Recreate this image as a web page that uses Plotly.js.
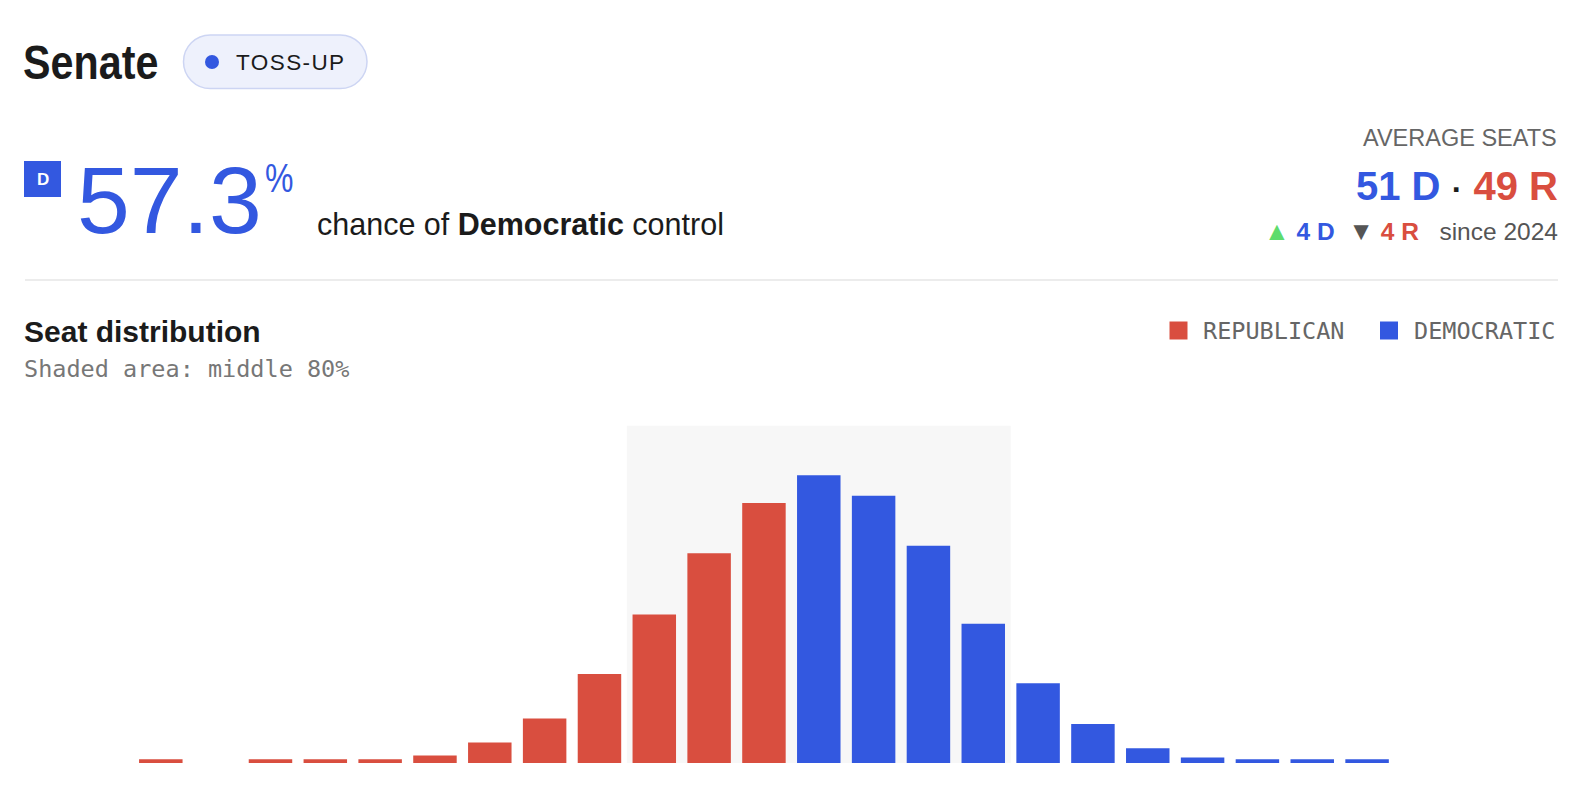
<!DOCTYPE html>
<html><head><meta charset="utf-8">
<script src="https://cdn.plot.ly/plotly-3.0.1.min.js"></script>
<style>
html,body{margin:0;padding:0;background:#fff;overflow:hidden}
#chart{width:1579px;height:792px}
.annotation[data-index="0"] .annotation-text{transform-box:fill-box;transform-origin:0 50%;transform:scaleX(0.86)}
.annotation[data-index="1"] .annotation-text{letter-spacing:1.4px}
.annotation[data-index="4"] .annotation-text{transform-box:fill-box;transform-origin:0 50%;transform:scaleX(0.8)}
</style>
</head><body><div id="chart"></div>
<script>
// ---- data ----
const seats = [39,40,41,42,43,44,45,46,47,48,49,50,51,52,53,54,55,56,57,58,59,60,61];
const probability = [0.2,0,0.2,0.2,0.2,0.4,1.1,2.4,4.8,8.0,11.3,14.0,15.5,14.4,11.7,7.5,4.3,2.1,0.8,0.3,0.2,0.2,0.2];
const majoritySeats = 51;
const middle80 = [48, 54];
const chanceDem = "57.3";
const avgDem = 51, avgRep = 49;
const changeDem = 4, changeRep = 4, sinceYear = 2024;
const rating = "TOSS-UP";
const legendLabels = ["REPUBLICAN", "DEMOCRATIC"];

// ---- styles ----
const BLUE = "#3358e0", RED = "#d94e3f", INK = "#1b1b1b", GRAY = "#666666";
const W = 1579, H = 792;
const px = x => x / W, py = y => 1 - y / H;

const repX = [], repY = [], demX = [], demY = [];
seats.forEach((s, i) => {
  if (s >= majoritySeats) { demX.push(s); demY.push(probability[i]); }
  else { repX.push(s); repY.push(probability[i]); }
});

const traces = [
  {type: "bar", x: repX, y: repY, name: legendLabels[0], width: 0.793, marker: {color: RED}, hoverinfo: "x+y"},
  {type: "bar", x: demX, y: demY, name: legendLabels[1], width: 0.793, marker: {color: BLUE}, hoverinfo: "x+y"}
];

function pt(x, y) { return px(x).toFixed(5) + "," + py(y).toFixed(5); }
function stadium(x0, y0, x1, y1) {
  const r = (y1 - y0) / 2, k = 0.5523 * r;
  return "M" + pt(x0 + r, y0) + " L" + pt(x1 - r, y0) +
    " C" + pt(x1 - r + k, y0) + " " + pt(x1, y0 + r - k) + " " + pt(x1, y0 + r) +
    " C" + pt(x1, y0 + r + k) + " " + pt(x1 - r + k, y1) + " " + pt(x1 - r, y1) +
    " L" + pt(x0 + r, y1) +
    " C" + pt(x0 + r - k, y1) + " " + pt(x0, y0 + r + k) + " " + pt(x0, y0 + r) +
    " C" + pt(x0, y0 + r - k) + " " + pt(x0 + r - k, y0) + " " + pt(x0 + r, y0) + " Z";
}
function prect(x0, y0, x1, y1, fill) {
  return {type: "rect", xref: "paper", yref: "paper", x0: px(x0), x1: px(x1), y0: py(y1), y1: py(y0),
          fillcolor: fill, line: {width: 0}};
}

const shapes = [
  {type: "rect", xref: "x", yref: "y domain", x0: middle80[0] - 0.5, x1: middle80[1] + 0.5, y0: 0, y1: 1,
   fillcolor: "#f7f7f7", line: {width: 0}, layer: "below"},
  {type: "path", xref: "paper", yref: "paper", path: stadium(183.5, 35, 367, 88.5),
   fillcolor: "#eef1fc", line: {color: "#cdd5f3", width: 1.5}},
  {type: "circle", xref: "paper", yref: "paper", x0: px(205), x1: px(219), y0: py(69), y1: py(55),
   fillcolor: BLUE, line: {width: 0}},
  prect(24, 161, 61, 197, BLUE),
  {type: "line", xref: "paper", yref: "paper", x0: px(25), x1: px(1558), y0: py(280), y1: py(280),
   line: {color: "#e6e6e6", width: 1.5}},
  prect(1169.5, 321.5, 1187.5, 339.5, RED),
  prect(1380, 321.5, 1398, 339.5, BLUE)
];

function txt(x, y, text, size, color, family, xanchor, weight) {
  return {xref: "paper", yref: "paper", x: px(x), y: py(y), text: text, showarrow: false,
          xanchor: xanchor || "left", yanchor: "middle", borderpad: 0, borderwidth: 0,
          font: {size: size, color: color, family: family, weight: weight || "normal"}};
}
const SANS = "Liberation Sans, Arial, sans-serif";
const MONO = "DejaVu Sans Mono, Liberation Mono, monospace";
const NB = "\u00a0";

const annotations = [
  txt(23, 62, "Senate", 48, INK, SANS, "left", "bold"),
  txt(240.5, 62.5, rating, 22.5, INK, SANS, "left"),
  txt(42.8, 179, "D", 17, "#ffffff", SANS, "center", "bold"),
  txt(77, 200, chanceDem, 95, BLUE, SANS, "left"),
  txt(265, 178, "%", 40, BLUE, SANS, "left"),
  txt(317, 223.5, "chance of <b>Democratic</b> control", 30.5, INK, SANS, "left"),
  txt(1557, 138.5, "AVERAGE SEATS", 23.5, GRAY, SANS, "right"),
  txt(1558, 186, '<span style="color:' + BLUE + '">' + avgDem + NB + 'D</span> <span style="color:' + INK + ';font-size:32px">·</span> ' +
      '<span style="color:' + RED + '">' + avgRep + NB + 'R</span>', 40, BLUE, SANS, "right", "bold"),
  txt(1558, 231, '<span style="color:#5fdc6c;font-size:26px">▲</span>' + NB + '<b><span style="color:' + BLUE + '">' + changeDem + NB + 'D</span></b>' +
      NB + NB + '<span style="color:#555555;font-size:26px">▼</span>' + NB + '<b><span style="color:' + RED + '">' + changeRep + NB + 'R</span></b>' +
      NB + NB + NB + 'since ' + sinceYear, 24.5, "#555555", SANS, "right"),
  txt(24, 331.5, "Seat distribution", 30, INK, SANS, "left", "bold"),
  txt(24, 368.5, "Shaded area: middle 80%", 23.5, "#777777", MONO, "left"),
  txt(1203, 331, legendLabels[0], 23.5, GRAY, MONO, "left"),
  txt(1413.5, 331, legendLabels[1], 23.5, GRAY, MONO, "left")
];

const layout = {
  width: W, height: H,
  margin: {l: 0, r: 0, t: 0, b: 0},
  paper_bgcolor: "#ffffff", plot_bgcolor: "#ffffff",
  showlegend: false,
  barmode: "overlay",
  xaxis: {domain: [133.4 / W, 1394.5 / W], range: [38.5, 61.5], visible: false, fixedrange: true},
  yaxis: {domain: [py(763), py(425.7)], range: [0, 18.17], visible: false, fixedrange: true},
  shapes: shapes,
  annotations: annotations,
  font: {family: SANS}
};

Plotly.newPlot("chart", traces, layout, {displayModeBar: false, staticPlot: true});
</script></body></html>
